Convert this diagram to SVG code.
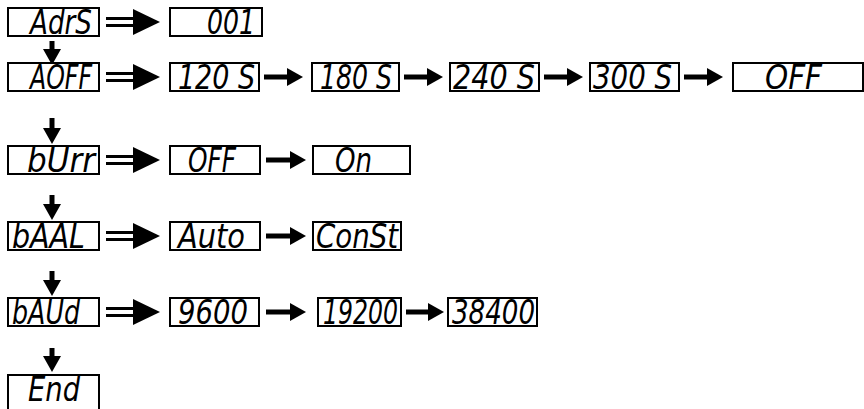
<svg xmlns="http://www.w3.org/2000/svg" width="864" height="409" viewBox="0 0 864 409">
<defs>
<style>
.box{fill:#fff;stroke:#000;stroke-width:2}
.lcd{font-family:"DejaVu Sans Condensed","Liberation Sans Narrow","Liberation Sans",sans-serif;font-size:34px;font-style:italic;fill:#000}
.sh{stroke:#000;stroke-width:5;fill:none}
.dl{stroke:#000;stroke-width:3;fill:none}
.hd{fill:#000}
</style>
<marker id="ah" markerUnits="userSpaceOnUse" markerWidth="16" markerHeight="18" refX="0" refY="9" orient="auto">
<path d="M0,0 L16,9 L0,18 z" fill="#000"/>
</marker>
<g id="dbl">
<line x1="0" y1="-3.5" x2="28" y2="-3.5" class="dl"/>
<line x1="0" y1="3.5" x2="28" y2="3.5" class="dl"/>
<path d="M27,-13 L54,0 L27,13 z" class="hd"/>
</g>
</defs>

<g id="connectors">
<use href="#dbl" x="106" y="22"/>
<use href="#dbl" x="106" y="77"/>
<use href="#dbl" x="106" y="160"/>
<use href="#dbl" x="106" y="236"/>
<use href="#dbl" x="106" y="312"/>
<line class="sh" x1="264" y1="77" x2="287" y2="77" marker-end="url(#ah)"/>
<line class="sh" x1="404" y1="77" x2="427" y2="77" marker-end="url(#ah)"/>
<line class="sh" x1="544" y1="77" x2="567" y2="77" marker-end="url(#ah)"/>
<line class="sh" x1="684" y1="77" x2="707" y2="77" marker-end="url(#ah)"/>
<line class="sh" x1="266" y1="160" x2="290" y2="160" marker-end="url(#ah)"/>
<line class="sh" x1="266" y1="236" x2="290" y2="236" marker-end="url(#ah)"/>
<line class="sh" x1="266" y1="312" x2="290" y2="312" marker-end="url(#ah)"/>
<line class="sh" x1="406" y1="312" x2="428" y2="312" marker-end="url(#ah)"/>
<line class="sh" x1="52" y1="41" x2="52" y2="49" marker-end="url(#ah)"/>
<line class="sh" x1="52" y1="118" x2="52" y2="128" marker-end="url(#ah)"/>
<line class="sh" x1="52" y1="195" x2="52" y2="204" marker-end="url(#ah)"/>
<line class="sh" x1="52" y1="271" x2="52" y2="280" marker-end="url(#ah)"/>
<line class="sh" x1="52" y1="348" x2="52" y2="356" marker-end="url(#ah)"/>
</g>

<g id="n-adrs"><rect class="box" x="8" y="8" width="91" height="28"/><text class="lcd" x="30" y="34" textLength="62" lengthAdjust="spacingAndGlyphs">AdrS</text></g>
<g id="n-001"><rect class="box" x="170" y="8" width="92" height="28"/><text class="lcd" x="207" y="34" textLength="48" lengthAdjust="spacingAndGlyphs">001</text></g>

<g id="n-aoff"><rect class="box" x="8" y="63" width="91" height="28"/><text class="lcd" x="30" y="89" textLength="62" lengthAdjust="spacingAndGlyphs">AOFF</text></g>
<g id="n-120"><rect class="box" x="170" y="63" width="89" height="28"/><text class="lcd" x="178" y="89" textLength="77" lengthAdjust="spacingAndGlyphs">120 S</text></g>
<g id="n-180"><rect class="box" x="312" y="63" width="87" height="28"/><text class="lcd" x="320" y="89" textLength="72" lengthAdjust="spacingAndGlyphs">180 S</text></g>
<g id="n-240"><rect class="box" x="450" y="63" width="89" height="28"/><text class="lcd" x="453" y="89" textLength="82" lengthAdjust="spacingAndGlyphs">240 S</text></g>
<g id="n-300"><rect class="box" x="590" y="63" width="89" height="28"/><text class="lcd" x="593" y="89" textLength="79" lengthAdjust="spacingAndGlyphs">300 S</text></g>
<g id="n-off1"><rect class="box" x="733" y="63" width="130" height="28"/><text class="lcd" x="765" y="89" textLength="57" lengthAdjust="spacingAndGlyphs">OFF</text></g>

<g id="n-burr"><rect class="box" x="8" y="146" width="91" height="28"/><text class="lcd" x="27" y="172" textLength="68" lengthAdjust="spacingAndGlyphs">bUrr</text></g>
<g id="n-off2"><rect class="box" x="170" y="146" width="90" height="28"/><text class="lcd" x="188" y="172" textLength="48" lengthAdjust="spacingAndGlyphs">OFF</text></g>
<g id="n-on"><rect class="box" x="313" y="146" width="97" height="28"/><text class="lcd" x="335" y="172" textLength="37" lengthAdjust="spacingAndGlyphs">On</text></g>

<g id="n-baal"><rect class="box" x="8" y="222" width="91" height="28"/><text class="lcd" x="12" y="248" textLength="73" lengthAdjust="spacingAndGlyphs">bAAL</text></g>
<g id="n-auto"><rect class="box" x="170" y="222" width="90" height="28"/><text class="lcd" x="178" y="248" textLength="67" lengthAdjust="spacingAndGlyphs">Auto</text></g>
<g id="n-const"><rect class="box" x="313" y="222" width="88" height="28"/><text class="lcd" x="316" y="248" textLength="82" lengthAdjust="spacingAndGlyphs">ConSt</text></g>

<g id="n-baud"><rect class="box" x="8" y="298" width="91" height="28"/><text class="lcd" x="12" y="324" textLength="68" lengthAdjust="spacingAndGlyphs">bAUd</text></g>
<g id="n-9600"><rect class="box" x="170" y="298" width="89" height="28"/><text class="lcd" x="178" y="324" textLength="70" lengthAdjust="spacingAndGlyphs">9600</text></g>
<g id="n-19200"><rect class="box" x="318" y="298" width="83" height="28"/><text class="lcd" x="323" y="324" textLength="75" lengthAdjust="spacingAndGlyphs">19200</text></g>
<g id="n-38400"><rect class="box" x="448" y="298" width="89" height="28"/><text class="lcd" x="452" y="324" textLength="83" lengthAdjust="spacingAndGlyphs">38400</text></g>

<g id="n-end"><rect class="box" x="8" y="375" width="91" height="36"/><text class="lcd" x="28" y="401" font-size="30" textLength="52" lengthAdjust="spacingAndGlyphs">End</text></g>
</svg>
